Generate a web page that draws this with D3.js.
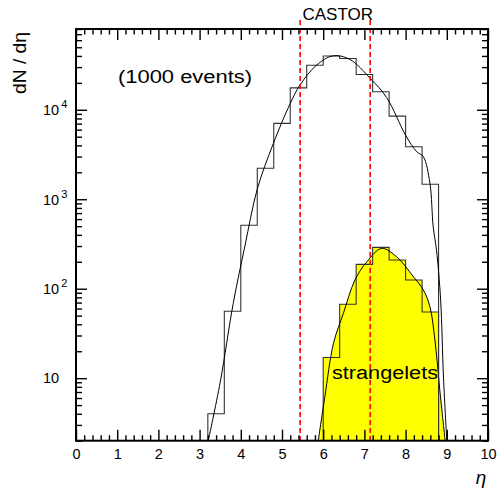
<!DOCTYPE html>
<html><head><meta charset="utf-8">
<script src="https://cdn.jsdelivr.net/npm/d3@7"></script>
<style>
html,body{margin:0;padding:0;background:#fff;}
svg{display:block;}
text{font-family:"Liberation Sans",Arial,Helvetica,sans-serif;fill:#000;}
</style></head>
<body>
<script>
// ---- data ----
const binEdgesAll = [3.2,3.6,4.0,4.4,4.8,5.2,5.6,6.0,6.4,6.8,7.2,7.6,8.0,8.4,8.8];
const binValuesAll = [4,56,513,2220,7050,17600,31500,40000,37500,24800,15900,8500,3860,1470];
const fitAllEta = [3.21,3.5,3.82,4.1,4.4,4.79,5.19,5.44,5.84,6.24,6.65,7.14,7.54,8.0,8.27,8.43,8.59,8.67,8.75,8.85,8.92,9.0];
const fitAllVal = [2,9,70,300,1300,4200,11500,19000,31600,40100,36500,22500,13700,5200,3400,2990,1510,490,270,75,10,2];
const binEdgesStr = [6.0,6.4,6.8,7.2,7.6,8.0,8.4,8.8];
const binValuesStr = [17,67,187,290,209,125,55];
const fitStrEta = [5.88,6.04,6.25,6.49,6.77,7.06,7.42,7.78,8.19,8.43,8.59,8.71,8.83,8.96];
const fitStrVal = [2,6.2,24.6,53,125,200,282,228,136,97,63,27,7.4,2];
const castorEdges = [5.44,7.14];
const xTicksMajor = [0,1,2,3,4,5,6,7,8,9,10];
const yDecades = [10,100,1000,10000];
const yDecadeExp = ["", "2", "3", "4"];

// ---- layout ----
const W = 497, H = 494;
const L = 76, R = 488, T = 29, B = 440.7;
const x = d3.scaleLinear().domain([0,10]).range([L,R]);
const y = d3.scaleLog().domain([2,80000]).range([B,T]);

const svg = d3.select("body").append("svg").attr("width",W).attr("height",H);
svg.append("defs").append("clipPath").attr("id","clip")
  .append("rect").attr("x",L).attr("y",T).attr("width",R-L).attr("height",B-T);
const plot = svg.append("g").attr("clip-path","url(#clip)");

function histPath(edges, vals){
  const yc = v => Math.min(B, y(Math.max(v,1e-3)));
  let p = "M"+x(edges[0])+","+B;
  vals.forEach((v,i)=>{ p += "L"+x(edges[i])+","+yc(v)+"L"+x(edges[i+1])+","+yc(v); });
  p += "L"+x(edges[edges.length-1])+","+B;
  return p;
}
const line = d3.line().x(d=>x(d[0])).y(d=>y(d[1])).curve(d3.curveCatmullRom.alpha(0.5));
const strPts = fitStrEta.map((e,i)=>[e,fitStrVal[i]]);
const allPts = fitAllEta.map((e,i)=>[e,fitAllVal[i]]);

// yellow fills
plot.append("path").attr("d", line(strPts)+"Z").attr("fill","#ffff00").attr("stroke","none");
plot.append("path").attr("d", histPath(binEdgesStr,binValuesStr)+"Z").attr("fill","#ffff00").attr("stroke","none");
plot.append("path").attr("d", histPath(binEdgesStr,binValuesStr)).attr("fill","none").attr("stroke","#333").attr("stroke-width",1.1);
plot.append("path").attr("d", line(strPts)).attr("fill","none").attr("stroke","#000").attr("stroke-width",1);

// all-particle histogram & fit
plot.append("path").attr("d", histPath(binEdgesAll,binValuesAll)).attr("fill","none").attr("stroke","#333").attr("stroke-width",1.1);
plot.append("path").attr("d", line(allPts)).attr("fill","none").attr("stroke","#000").attr("stroke-width",1);

// castor lines
svg.selectAll("line.castor").data(castorEdges).enter().append("line")
  .attr("x1",d=>x(d)).attr("x2",d=>x(d)).attr("y1",20).attr("y2",B)
  .attr("stroke","#ff0000").attr("stroke-width",1.6).attr("stroke-dasharray","5,3");

// axes (ticks inward)
const xMinor = d3.range(0,10.001,0.2).filter(v=>Math.abs(v-Math.round(v))>1e-6);
const yMinor = [];
[1,10,100,1000,10000].forEach(d=>{ for(let k=2;k<=9;k++){ const v=d*k; if(v>=2 && v<=80000) yMinor.push(v);} });

function styleAxis(g){ g.select(".domain").remove(); g.selectAll(".tick line").attr("stroke","#000").attr("stroke-width",1.4); }
svg.append("g").attr("transform",`translate(0,${B})`)
  .call(d3.axisBottom(x).tickValues(xTicksMajor).tickSize(-11).tickPadding(8).tickFormat(d3.format("d")))
  .call(styleAxis)
  .call(g=>g.selectAll("text").attr("font-size",14.5).attr("font-family","Liberation Sans, Arial, sans-serif"));
svg.append("g").attr("transform",`translate(0,${B})`)
  .call(d3.axisBottom(x).tickValues(xMinor).tickSize(-5.5).tickFormat(""))
  .call(styleAxis);
svg.append("g").attr("transform",`translate(0,${T})`)
  .call(d3.axisTop(x).tickValues(xTicksMajor).tickSize(-11).tickFormat(""))
  .call(styleAxis);
svg.append("g").attr("transform",`translate(0,${T})`)
  .call(d3.axisTop(x).tickValues(xMinor).tickSize(-5.5).tickFormat(""))
  .call(styleAxis);
svg.append("g").attr("transform",`translate(${L},0)`)
  .call(d3.axisLeft(y).tickValues(yDecades).tickSize(-11).tickFormat(""))
  .call(styleAxis);
svg.append("g").attr("transform",`translate(${L},0)`)
  .call(d3.axisLeft(y).tickValues(yMinor).tickSize(-6).tickFormat(""))
  .call(styleAxis);
svg.append("g").attr("transform",`translate(${R},0)`)
  .call(d3.axisRight(y).tickValues(yDecades).tickSize(-11).tickFormat(""))
  .call(styleAxis);
svg.append("g").attr("transform",`translate(${R},0)`)
  .call(d3.axisRight(y).tickValues(yMinor).tickSize(-6).tickFormat(""))
  .call(styleAxis);

// y labels
yDecades.forEach((d,i)=>{
  const t = svg.append("text").attr("x",43).attr("y",y(d)+5.3).attr("font-size",14.5);
  t.append("tspan").text("10");
  if(yDecadeExp[i]) t.append("tspan").attr("font-size",11).attr("dx",2).attr("dy",-7).text(yDecadeExp[i]);
});

// frame
svg.append("rect").attr("x",L).attr("y",T).attr("width",R-L).attr("height",B-T)
  .attr("fill","none").attr("stroke","#000").attr("stroke-width",2);

// texts
svg.append("text").attr("x",337.7).attr("y",20).attr("text-anchor","middle").attr("font-size",17).text("CASTOR");
svg.append("text").attr("x",118).attr("y",83).attr("font-size",18).attr("font-family","DejaVu Sans, sans-serif")
  .attr("textLength",134).attr("lengthAdjust","spacingAndGlyphs").text("(1000 events)");
svg.append("text").attr("x",332).attr("y",379).attr("font-size",18).attr("font-family","DejaVu Sans, sans-serif")
  .attr("textLength",106).attr("lengthAdjust","spacingAndGlyphs").text("strangelets");
svg.append("text").attr("transform","translate(25.5,63) rotate(-90)").attr("text-anchor","middle")
  .attr("font-size",17.5).attr("textLength",62).attr("lengthAdjust","spacingAndGlyphs").text("dN / dη");
svg.append("text").attr("x",481).attr("y",484).attr("text-anchor","middle").attr("font-size",19)
  .attr("font-style","italic").attr("font-family","DejaVu Serif, serif").text("η");
</script>
</body></html>
